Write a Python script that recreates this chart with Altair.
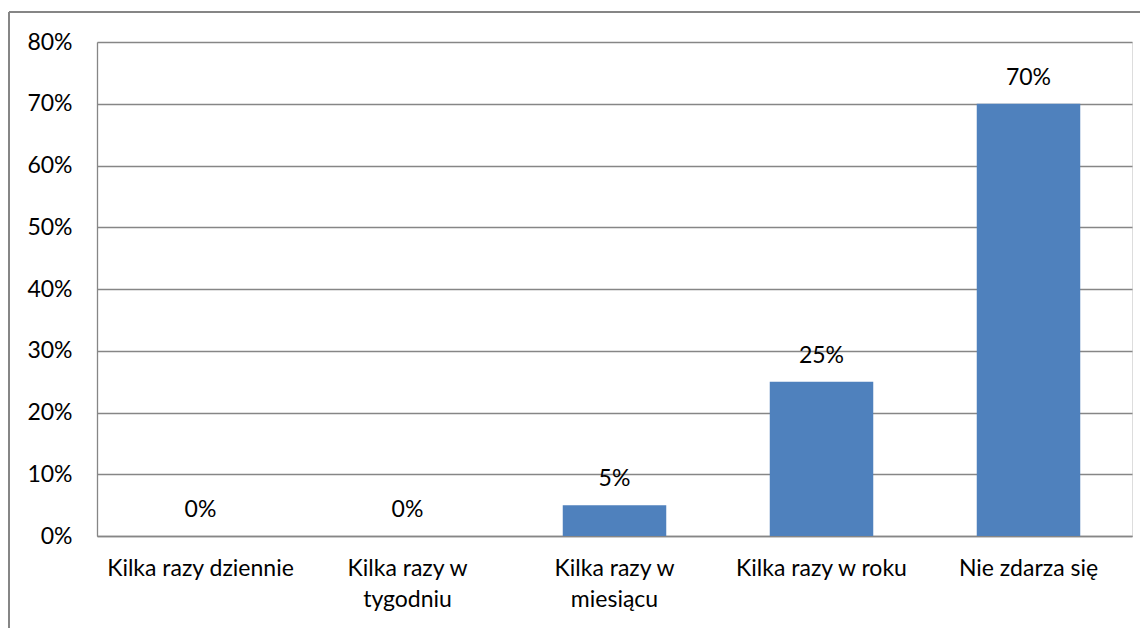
import altair as alt
import pandas as pd

categories = ["Kilka razy dziennie", "Kilka razy w\ntygodniu", "Kilka razy w\nmiesiącu",
              "Kilka razy w roku", "Nie zdarza się"]
values = [0.0, 0.0, 0.05, 0.25, 0.70]
y_ticks = [0, 0.1, 0.2, 0.3, 0.4, 0.5, 0.6, 0.7, 0.8]

df = pd.DataFrame({"cat": categories, "val": values})

FONT = "Lato"
FS = 23
GRAY = "#868686"

x_enc = alt.X("cat:N", sort=categories, title=None,
              scale=alt.Scale(paddingInner=0.5, paddingOuter=0.25),
              axis=alt.Axis(labelAngle=0, labelExpr="split(datum.label, '\\n')",
                            labelFontSize=FS, labelFont=FONT, labelColor="black",
                            labelBaseline="top", labelPadding=21, labelLineHeight=31,
                            ticks=False, domainColor=GRAY, domainWidth=1.3,
                            labelLimit=300))
y_enc = alt.Y("val:Q", title=None,
              scale=alt.Scale(domain=[0, 0.8], nice=False),
              axis=alt.Axis(values=y_ticks, format=".0%", labelFontSize=FS, labelFont=FONT,
                            labelColor="black", labelPadding=25, ticks=False,
                            grid=True, gridColor=GRAY, gridWidth=1.3,
                            domainColor=GRAY, domainWidth=1.3))

bars = alt.Chart(df).mark_bar(color="#4F81BD").encode(x=x_enc, y=y_enc)

labels = alt.Chart(df).mark_text(font=FONT, fontSize=FS, color="black",
                                 baseline="alphabetic", align="center", dy=-19).encode(
    x=alt.X("cat:N", sort=categories),
    y=alt.Y("val:Q"),
    text=alt.Text("val:Q", format=".0%"))

# outer chart frame (only its left and top edges are inside the picture)
frame_left = alt.Chart(df).mark_rule(color=GRAY, strokeWidth=1.5, clip=False).encode(
    x=alt.value(-88), y=alt.value(-30), y2=alt.value(628 - 42 + 10))
frame_top = alt.Chart(df).mark_rule(color=GRAY, strokeWidth=1.5, clip=False).encode(
    x=alt.value(-88), x2=alt.value(1148 - 97 + 10), y=alt.value(-30))

chart = alt.layer(frame_left, frame_top, bars, labels).properties(
    width=1035, height=494,
    padding={"left": 89, "top": 34, "right": 8, "bottom": 92},
    autosize=alt.AutoSizeParams(type="none"),
).configure_view(stroke=None).configure(background="white")

chart.save("out.html", embed_options={"renderer": "svg", "actions": False})
